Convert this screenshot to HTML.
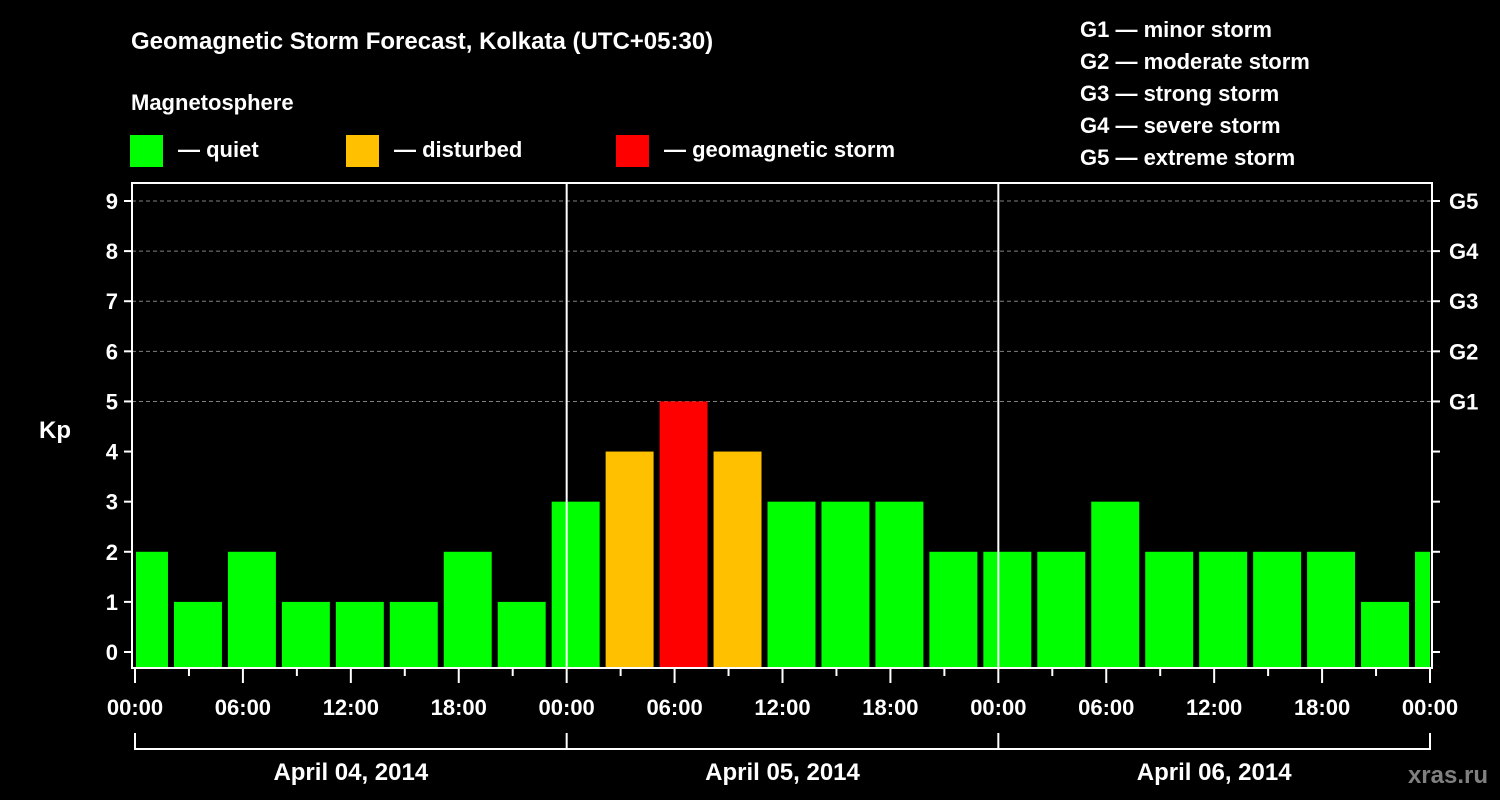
<!DOCTYPE html>
<html><head><meta charset="utf-8"><style>
html,body{margin:0;padding:0;background:#000;}
svg{display:block;font-family:"Liberation Sans",Arial,sans-serif;font-weight:bold;}
</style></head><body>
<svg id="chart" width="1500" height="800" viewBox="0 0 1500 800">
<text x="131" y="49" fill="#fff" font-size="24">Geomagnetic Storm Forecast, Kolkata (UTC+05:30)</text>
<text x="131" y="110" fill="#fff" font-size="22">Magnetosphere</text>
<g><rect x="130" y="135" width="33" height="32" fill="#00ff00"/><text x="178" y="157" fill="#fff" font-size="22">— quiet</text></g>
<g><rect x="346" y="135" width="33" height="32" fill="#ffc000"/><text x="394" y="157" fill="#fff" font-size="22">— disturbed</text></g>
<g><rect x="616" y="135" width="33" height="32" fill="#ff0000"/><text x="664" y="157" fill="#fff" font-size="22">— geomagnetic storm</text></g>
<g fill="#fff" font-size="22">
<text x="1080" y="37">G1 — minor storm</text>
<text x="1080" y="69">G2 — moderate storm</text>
<text x="1080" y="101">G3 — strong storm</text>
<text x="1080" y="133">G4 — severe storm</text>
<text x="1080" y="165">G5 — extreme storm</text>
</g>
<text x="55" y="438" fill="#fff" font-size="24" text-anchor="middle">Kp</text>
<text x="1488" y="783" fill="#808080" font-size="24" text-anchor="end">xras.ru</text>
<g id="plot"></g>
</svg>
<script>
const kpValues = [2,1,2,1,1,1,2,1, 3,4,5,4,3,3,3,2, 2,2,3,2,2,2,2,1,2];
const xTickLabels = ["00:00","06:00","12:00","18:00","00:00","06:00","12:00","18:00","00:00","06:00","12:00","18:00","00:00"];
const dayLabels = ["April 04, 2014","April 05, 2014","April 06, 2014"];
const gLabels = ["G1","G2","G3","G4","G5"];
const yTicks = [0,1,2,3,4,5,6,7,8,9];

const NS="http://www.w3.org/2000/svg";
const g=document.getElementById('plot');
const L=132,R=1432,T=183,B=668;
const x=h=>135+h*(1430-135)/72;
const y=v=>652-v*(652-201)/9;
function mk(tag,attrs,parent){const e=document.createElementNS(NS,tag);for(const k in attrs)e.setAttribute(k,attrs[k]);(parent||g).appendChild(e);return e;}
function color(v){return v>=5?'#ff0000':(v>=4?'#ffc000':'#00ff00');}

// gridlines
for(let v=5;v<=9;v++){
  const ln=mk('line',{x1:L,x2:R,y1:y(v),y2:y(v),stroke:'#808080','stroke-dasharray':'4,3','stroke-width':1});
  
  
}
// bars
kpValues.forEach((v,i)=>{
  const s=-1+3*i;
  const x0=Math.max(x(s)+3,L+4), x1=Math.min(x(s+3)-3,R-2);
  const r=mk('rect',{x:x0,y:y(v),width:x1-x0,height:B-y(v),fill:color(v)});
  
  
});
// frame
const fr=mk('rect',{x:L,y:T,width:R-L,height:B-T,fill:'none',stroke:'#fff','stroke-width':2});


// day separators
[24,48].forEach(h=>{
  const d=mk('line',{x1:x(h),x2:x(h),y1:T,y2:B,stroke:'#fff','stroke-width':2});
  
  
});
// y ticks
yTicks.forEach(v=>{
  mk('line',{x1:L-8,x2:L,y1:y(v),y2:y(v),stroke:'#fff','stroke-width':2});
  mk('line',{x1:R,x2:R+8,y1:y(v),y2:y(v),stroke:'#fff','stroke-width':2});
  const t=mk('text',{x:L-14,y:y(v)+8,fill:'#fff','font-size':22,'text-anchor':'end'});
  t.textContent=v;
  
  
});
gLabels.forEach((lab,i)=>{
  const t=mk('text',{x:R+17,y:y(5+i)+8,fill:'#fff','font-size':22});
  t.textContent=lab;
  
  
});
// x ticks
for(let h=0;h<=72;h+=3){
  const major=h%6===0;
  mk('line',{x1:x(h),x2:x(h),y1:B,y2:B+(major?15:8),stroke:'#fff','stroke-width':2});
}
xTickLabels.forEach((lab,i)=>{
  const t=mk('text',{x:x(i*6),y:715,fill:'#fff','font-size':22,'text-anchor':'middle'});
  t.textContent=lab;
  
  
});
// day bracket
mk('path',{d:`M${x(0)},733 V749 H${x(72)} V733`,fill:'none',stroke:'#fff','stroke-width':2});
[24,48].forEach(h=>mk('line',{x1:x(h),x2:x(h),y1:733,y2:749,stroke:'#fff','stroke-width':2}));
dayLabels.forEach((lab,i)=>{
  const t=mk('text',{x:x(12+24*i),y:780,fill:'#fff','font-size':24,'text-anchor':'middle'});
  t.textContent=lab;
  
  
});
</script>
</body></html>
